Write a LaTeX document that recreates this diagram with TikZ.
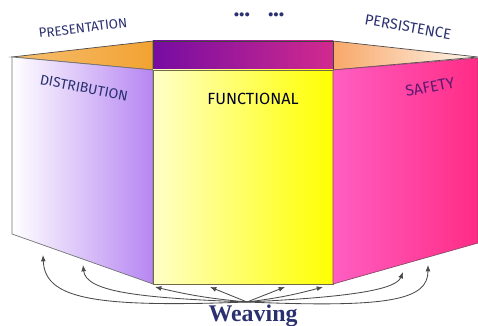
\documentclass[tikz,border=0pt]{standalone}
\usepackage{fontspec}
\setmainfont{Liberation Serif}
\newfontfamily\cartoon{Fira Sans}
\usetikzlibrary{arrows.meta}

\definecolor{ink}{HTML}{2A3070}
\definecolor{plum}{HTML}{5A1A70}
\definecolor{wire}{HTML}{4A4A4A}
\definecolor{lavender}{HTML}{B686F2}
\definecolor{grape}{HTML}{760CA2}
\definecolor{berry}{HTML}{D22A8E}
\definecolor{amber}{HTML}{F2A232}
\definecolor{pinkl}{HTML}{FF5EC2}
\definecolor{pinkr}{HTML}{FF2C86}

\newcommand{\geo}{
\def\xl{12}     % left edge of distribution wall
\def\xa{153}    % functional wall, left
\def\xb{333}    % functional wall, right
\def\xr{478}    % right edge of safety wall
\def\ytop{41}
\def\yrim{70}
\def\ybot{284}
}
\newcommand{\scl}{0.025}

\tikzset{
  wall/.style={draw=#1, line width=0.5pt},
  tag/.style={font=\cartoon\fontsize{10}{12}\selectfont, text=ink, inner sep=0pt},
  weft/.style={draw=wire, line width=0.6pt, -{Latex[length=4.5pt,width=3.5pt]}}
}

\begin{document}
\begin{tikzpicture}[x=\scl cm,y=-\scl cm]
  \geo
  \useasboundingbox (0,0) rectangle (478,326);
  % top rim
  \shade[wall=black!70, left color=amber!70!white, right color=amber]
    (\xl,57) -- (\xa,\ytop) -- (\xa,\yrim) -- cycle;
  \shade[wall=black!70, left color=amber!80!red!70!white, right color=amber!8!white]
    (\xb,\ytop) -- (\xr,57) -- (\xb,\yrim) -- cycle;
  \shade[wall=black!75, left color=grape, right color=berry]
    (\xa,\ytop) rectangle (\xb,\yrim);
  % the three walls
  \shade[wall=black!55, left color=white, right color=lavender]
    (\xl,57) -- (\xa,\yrim) -- (\xa,\ybot) -- (\xl,234) -- cycle;
  \shade[wall=black!65!yellow, left color=yellow!22!white, right color=yellow]
    (\xa,\yrim) rectangle (\xb,\ybot);
  \shade[wall=black!50!magenta, left color=pinkl, right color=pinkr]
    (\xb,\yrim) -- (\xr,58) -- (\xr,243) -- (\xb,\ybot) -- cycle;

  \node[tag, rotate=7, font=\cartoon\fontsize{9.5}{11}\selectfont] (pres) at (83,28) {PRESENTATION};
  \node[tag, rotate=-11] (dist) at (84,88) {DISTRIBUTION};
  \node[tag, font=\cartoon\fontsize{11.5}{13}\selectfont, text=black!85!blue] (func) at (253,99) {FUNCTIONAL};
  \node[tag, font=\bfseries\cartoon\fontsize{16}{18}\selectfont] (dots) at (259,15) {...\hspace{0.8em}...};
  \node[tag, rotate=-10, font=\cartoon\fontsize{10.5}{12}\selectfont] (pers) at (408,27) {PERSISTENCE};
  \node[tag, rotate=11, font=\cartoon\fontsize{11}{13}\selectfont, text=plum] (safe) at (430,87) {SAFETY};
  \node[inner sep=0pt, text=ink, font=\bfseries\fontsize{17}{19}\selectfont] (weave) at (253,316) {Weaving};

  \coordinate (hub) at (247,302);
  \coordinate (d1) at (43,255);
  \coordinate (d2) at (83,265);
  \coordinate (f1) at (155,287);
  \coordinate (f2) at (210,287);
  \coordinate (f3) at (285,287);
  \coordinate (f4) at (323,287);
  \coordinate (s1) at (403,272);
  \coordinate (s2) at (428,265);
  \draw[weft] (hub) .. controls (90,308) and (45,298) .. (d1);
  \draw[weft] (hub) .. controls (140,298) and (86,292) .. (d2);
  \draw[weft] (hub) to[bend left=4] (f1);
  \draw[weft] (hub) -- (f2);
  \draw[weft] (hub) -- (f3);
  \draw[weft] (hub) to[bend right=4] (f4);
  \draw[weft] (hub) .. controls (330,298) and (395,292) .. (s1);
  \draw[weft] (hub) .. controls (390,308) and (428,300) .. (s2);
  % \draw[wire] (hub) -- (weave);
\end{tikzpicture}
\end{document}
